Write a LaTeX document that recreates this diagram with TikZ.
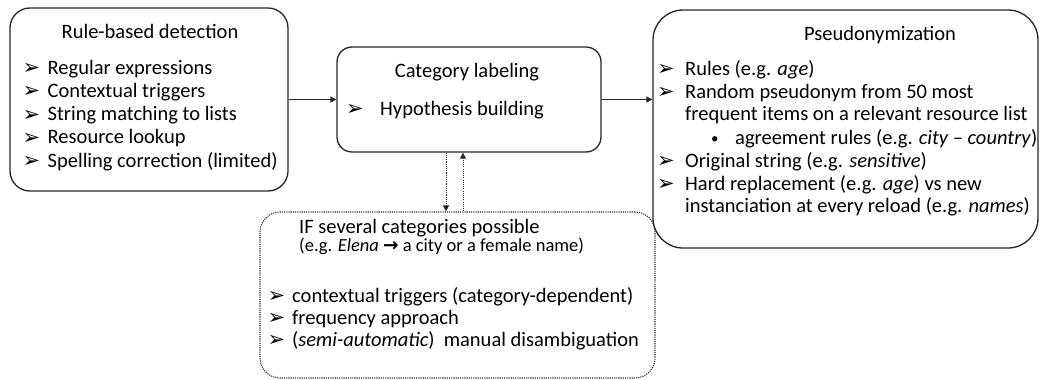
\documentclass[tikz,border=0pt]{standalone}
\usepackage{fontspec}
\setmainfont{Carlito}
\newfontfamily\dingfont{DejaVu Sans}
\usetikzlibrary{arrows.meta,positioning,calc}
\newcommand{\arrowbullet}{{\dingfont\char"27A2}}
\newcommand{\heavyarrow}{{\dingfont\bfseries\char"2192}}
\tikzset{
  stagebox/.style={draw=black!85,line width=1.3pt,rounded corners=#1,inner sep=0pt},
  stagebox/.default=20pt,
  choicebox/.style={draw=black!85,line width=1.1pt,dash pattern=on 1.1pt off 1.1pt,
    rounded corners=20pt,inner sep=0pt},
  titletext/.style={inner sep=0pt,font=\fontsize{20.5pt}{24pt}\selectfont,
    text height=14pt,text depth=4pt},
  itemtext/.style={titletext,anchor=west},
  marktext/.style={anchor=west,inner sep=0pt,font=\fontsize{21pt}{24pt}\selectfont,
    text height=13pt,text depth=2pt},
  dottext/.style={anchor=west,inner sep=0pt,font=\fontsize{15pt}{18pt}\selectfont,
    text height=11pt,text depth=3pt},
  notetext/.style={anchor=west,inner sep=0pt,font=\fontsize{18.5pt}{22pt}\selectfont,
    text height=13pt,text depth=3.5pt},
  flowarrow/.style={-{Triangle[length=6pt,width=6pt]},line width=1pt,draw=black!85},
  dotarrow/.style={flowarrow,dash pattern=on 1.1pt off 1.1pt}
}
\begin{document}
\begin{tikzpicture}[x=1pt,y=-1pt]
  \useasboundingbox (0,0) rectangle (1041,380);
  % boxes
  \node[stagebox=20pt,minimum width=278pt,minimum height=183pt] (rules) at (149,99.5) {};
  \node[stagebox=15pt,minimum width=264pt,minimum height=105pt] (labeling) at (469,99.5) {};
  \node[stagebox=30pt,minimum width=385pt,minimum height=238pt] (pseudo) at (845.5,129) {};
  \node[choicebox,minimum width=395pt,minimum height=166pt] (choice) at (457.5,295) {};

  % rule-based detection
  \node[titletext] (rulesTitle) at (150,33) {Rule-based detection};
  \foreach \txt [count=\i from 0] in {Regular expressions,Contextual triggers,
      String matching to lists,Resource lookup,Spelling correction (limited)} {
    \node[marktext] (rulesMark\i) at (22.5,69+23.3*\i) {\arrowbullet};
    \node[itemtext] (rulesItem\i) at (47.5,69+23.3*\i) {\txt};
  }

  % category labeling
  \node[titletext] (labelingTitle) at (467,72) {Category labeling};
  \node[marktext] (labelingMark) at (346,110) {\arrowbullet};
  \node[itemtext] (labelingItem) at (380,110) {Hypothesis building};

  % pseudonymization
  \node[titletext] (pseudoTitle) at (880,35) {Pseudonymization};
  \foreach \y/\txt [count=\i] in {70/{Rules (e.g. \textit{age})},
      93/{Random pseudonym from 50 most},
      162/{Original string (e.g. \textit{sensitive})},
      185/{Hard replacement (e.g. \textit{age}) vs new}} {
    \node[marktext] (pseudoMark\i) at (657,\y) {\arrowbullet};
    \node[itemtext] (pseudoItem\i) at (685,\y) {\txt};
  }
  \node[itemtext] (pseudoMore2) at (685,115) {frequent items on a relevant resource list};
  \node[itemtext] (pseudoMore4) at (685,207) {instanciation at every reload (e.g. \textit{names})};
  \node[dottext] (pseudoDot) at (711,139) {•};
  \node[itemtext] (pseudoSub) at (735,139) {agreement rules (e.g. \textit{city – country})};

  % ambiguous categories
  \node[itemtext] (choiceTitle) at (299,228) {IF several categories possible};
  \node[notetext] (choiceNote) at (299,247) {(e.g. \textit{Elena} \heavyarrow{} a city or a female name)};
  \foreach \y/\txt [count=\i] in {297/{contextual triggers (category-dependent)},
      319/{frequency approach},
      341/{(\textit{semi-automatic})\ \ manual disambiguation}} {
    \node[marktext] (choiceMark\i) at (267.5,\y) {\arrowbullet};
    \node[itemtext] (choiceItem\i) at (292,\y) {\txt};
  }

  % connectors
  \draw[flowarrow] (rules.east) -- (labeling.west);
  \draw[flowarrow] (labeling.east) -- (labeling.east -| pseudo.west);
  \draw[dotarrow] ([xshift=-23pt]labeling.south) -- ([xshift=-23pt]labeling.south |- choice.north);
  \draw[dotarrow] ([xshift=-6pt]labeling.south |- choice.north) -- ([xshift=-6pt]labeling.south);
\end{tikzpicture}
\end{document}
